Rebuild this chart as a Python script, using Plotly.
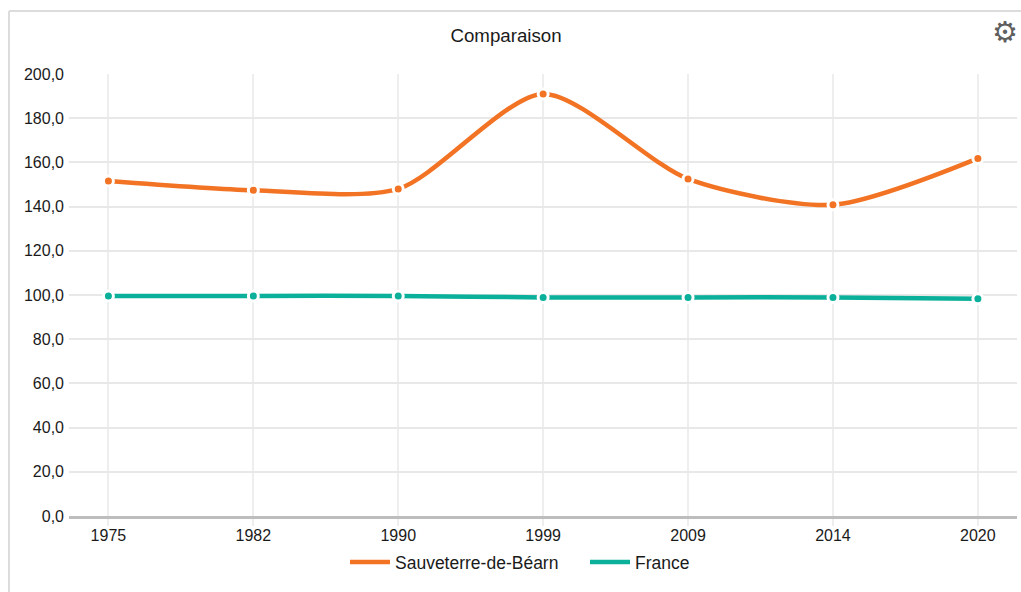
import plotly.graph_objects as go

years = ["1975", "1982", "1990", "1999", "2009", "2014", "2020"]
sauveterre = [151.6, 147.4, 148.0, 191.0, 152.5, 140.8, 161.8]
france = [99.6, 99.6, 99.6, 98.9, 98.9, 98.9, 98.3]
y_ticks = [0, 20, 40, 60, 80, 100, 120, 140, 160, 180, 200]
y_labels = ["0,0", "20,0", "40,0", "60,0", "80,0", "100,0", "120,0", "140,0", "160,0", "180,0", "200,0"]
ORANGE = "#f27323"
TEAL = "#0bb09a"
FONT = "Liberation Sans"
INK = "#1a1a1a"
W, H = 1021, 592

fig = go.Figure()
for name, vals, col in [("Sauveterre-de-Béarn", sauveterre, ORANGE), ("France", france, TEAL)]:
    fig.add_trace(go.Scatter(x=years, y=vals, mode="lines", name=name,
                             line=dict(color=col, width=4.5, shape="spline", smoothing=0.75)))
for name, vals, col in [("Sauveterre-de-Béarn", sauveterre, ORANGE), ("France", france, TEAL)]:
    fig.add_trace(go.Scatter(x=years, y=vals, mode="markers", name=name, showlegend=False,
                             marker=dict(color=col, size=10, line=dict(color="white", width=3))))

fig.update_layout(
    width=W, height=H, autosize=False, paper_bgcolor="white", plot_bgcolor="white",
    margin=dict(l=69, r=4, t=74, b=76),
    font=dict(family=FONT, size=16, color=INK),
    title=dict(text="Comparaison", x=506 / W, xanchor="center", y=1 - 35 / H, yanchor="middle",
               font=dict(size=18.7, color=INK)),
    legend=dict(orientation="h", x=(345 - 69) / 948, xanchor="left", y=(516 - 562) / 442, yanchor="middle",
                font=dict(size=17.5), itemwidth=40, entrywidth=185, entrywidthmode="pixels"),
    xaxis=dict(type="category", categoryorder="array", categoryarray=years, range=[-0.272, 6.27],
               showgrid=True, gridcolor="#eeeeee", gridwidth=2, ticks="outside", ticklen=7,
               tickcolor="#eeeeee", tickwidth=2, showline=True, linecolor="#bdbdbd", linewidth=2.5,
               zeroline=False, tickfont=dict(size=16), ticklabelstandoff=-4),
    yaxis=dict(range=[0, 200], tickvals=y_ticks, ticktext=y_labels, showgrid=True, gridcolor="#e8e8e8",
               gridwidth=1.5, zeroline=False, ticks="", showline=False, tickfont=dict(size=16),
               ticklabelstandoff=4),
    shapes=[
        dict(type="line", xref="paper", yref="paper", x0=-60 / 948, x1=-60 / 948, y0=-76 / 442, y1=1 + 63 / 442,
             line=dict(color="#dcdcdc", width=2)),
        dict(type="line", xref="paper", yref="paper", x0=-60 / 948, x1=1 + 4 / 948, y0=1 + 63 / 442, y1=1 + 63 / 442,
             line=dict(color="#dcdcdc", width=2)),
    ],
    annotations=[dict(text="⚙", xref="paper", yref="paper", x=(1004.5 - 69) / 948, y=1 + (74 - 32) / 442,
                      showarrow=False, xanchor="center", yanchor="middle",
                      font=dict(family="DejaVu Sans", size=29, color="#5f5f5f"))],
)
fig.write_html("out.html", config=dict(displayModeBar=False), post_script="document.body.style.margin='0';")
